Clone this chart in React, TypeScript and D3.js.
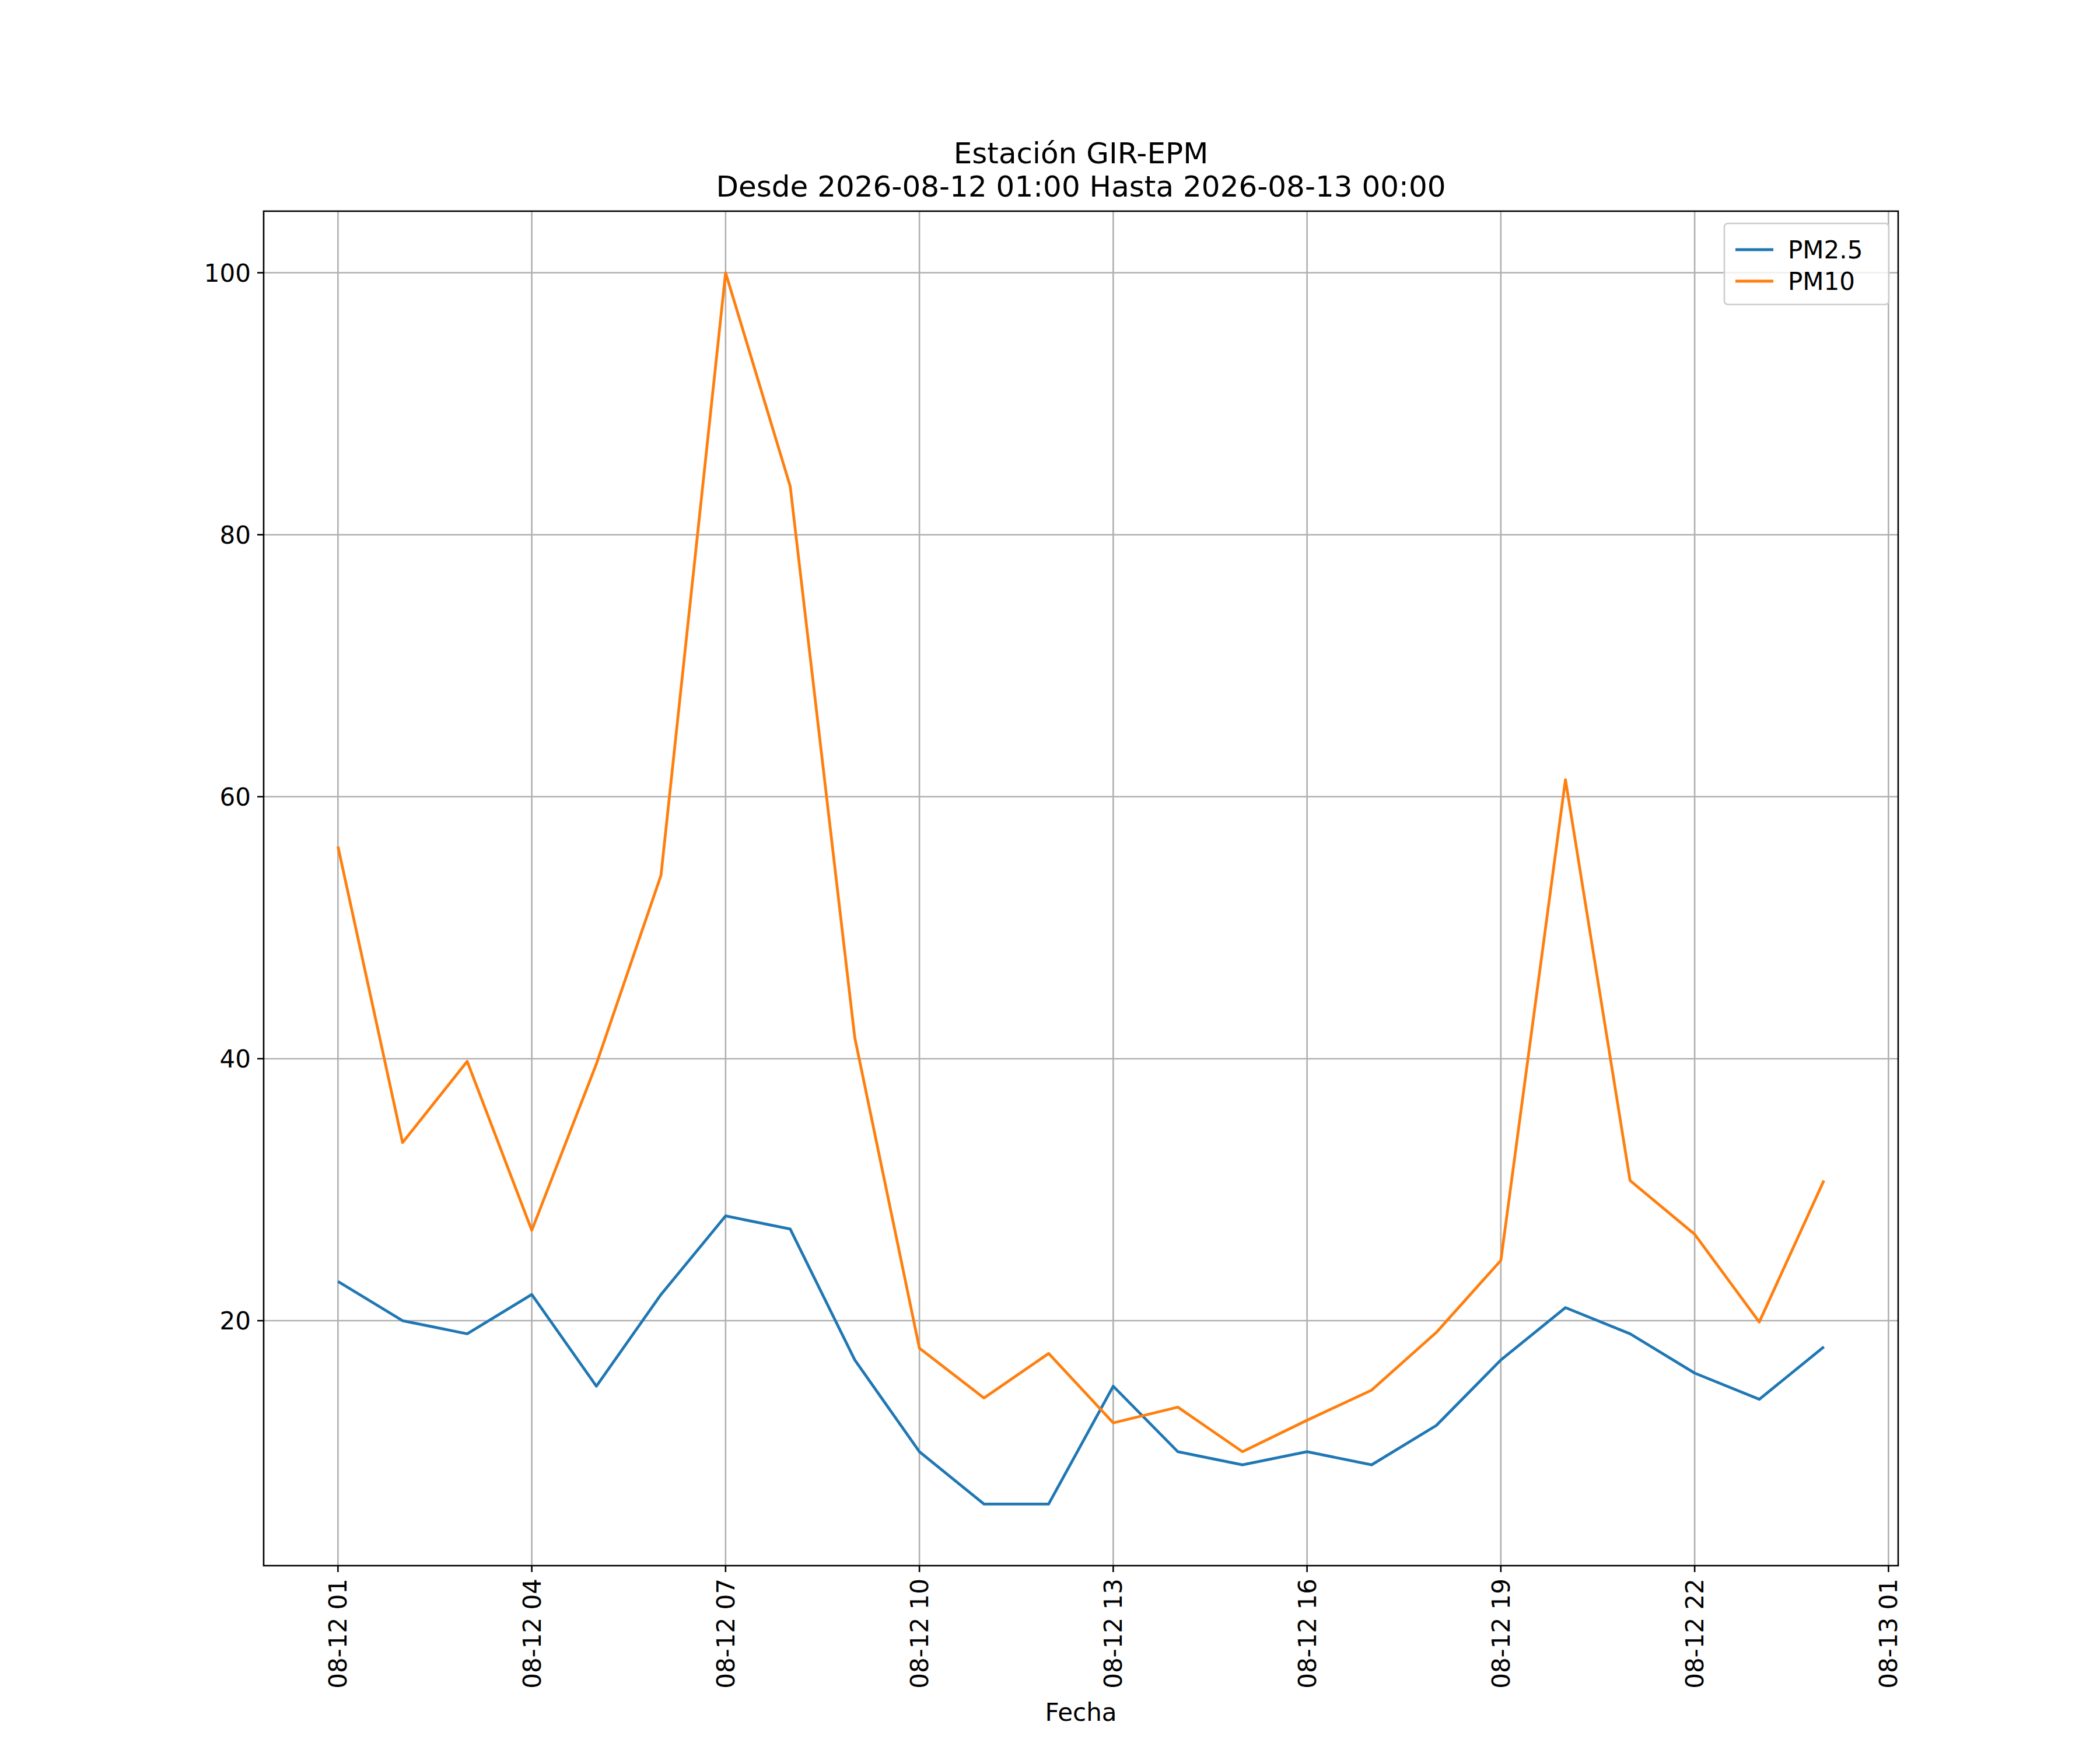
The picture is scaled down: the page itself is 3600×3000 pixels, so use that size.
import React from "react";
import * as d3 from "d3";

const hours = d3.range(1, 25);
const pm25 = [23, 20, 19, 22, 15, 22, 28, 27, 17, 10, 6, 6, 15, 10, 9, 10, 9, 12, 17, 21, 19, 16, 14, 18];
const pm10 = [56.2, 33.6, 39.8, 26.9, 39.6, 54, 100, 83.7, 41.6, 17.9, 14.1, 17.5, 12.2, 13.4, 10, 12.4, 14.7, 19.1, 24.6, 61.3, 30.7, 26.6, 19.9, 30.7];
const xTicks = [1, 4, 7, 10, 13, 16, 19, 22, 25];
const xTickLabels = ["08-12 01", "08-12 04", "08-12 07", "08-12 10", "08-12 13", "08-12 16", "08-12 19", "08-12 22", "08-13 01"];
const yTicks = [20, 40, 60, 80, 100];

const W = 3600, H = 3000;
const m = { left: 452, right: 3254, top: 362, bottom: 2684 };
const font = "DejaVu Sans, sans-serif";

export default function App() {
  const x = d3.scaleLinear().domain([-0.15, 25.15]).range([m.left, m.right]);
  const y = d3.scaleLinear().domain([1.3, 104.7]).range([m.bottom, m.top]);
  const line = d3.line<number>().x((_, i) => x(hours[i])).y((d) => y(d));
  const series = [
    { name: "PM2.5", values: pm25, color: "#1f77b4" },
    { name: "PM10", values: pm10, color: "#ff7f0e" },
  ];
  return (
    <svg width={W} height={H} style={{ display: "block", background: "#fff", marginLeft: -8, marginTop: -8 }} fontFamily={font}>
      <text x={(m.left + m.right) / 2} y={280} textAnchor="middle" fontSize={50}>Estación GIR-EPM</text>
      <text x={(m.left + m.right) / 2} y={337} textAnchor="middle" fontSize={50}>Desde 2026-08-12 01:00 Hasta 2026-08-13 00:00</text>
      {xTicks.map((t) => (
        <line key={"gx" + t} x1={x(t)} x2={x(t)} y1={m.top} y2={m.bottom} stroke="#b0b0b0" strokeWidth={2.6} />
      ))}
      {yTicks.map((t) => (
        <line key={"gy" + t} x1={m.left} x2={m.right} y1={y(t)} y2={y(t)} stroke="#b0b0b0" strokeWidth={2.6} />
      ))}
      {series.map((s) => (
        <path key={s.name} d={line(s.values) || ""} fill="none" stroke={s.color} strokeWidth={4.8} strokeLinejoin="round" />
      ))}
      <rect x={m.left} y={m.top} width={m.right - m.left} height={m.bottom - m.top} fill="none" stroke="#000" strokeWidth={2.6} />
      {xTicks.map((t, i) => (
        <g key={"tx" + t}>
          <line x1={x(t)} x2={x(t)} y1={m.bottom} y2={m.bottom + 11} stroke="#000" strokeWidth={2.6} />
          <text transform={`translate(${x(t) + 15},${m.bottom + 22}) rotate(-90)`} textAnchor="end" fontSize={42}>{xTickLabels[i]}</text>
        </g>
      ))}
      {yTicks.map((t) => (
        <g key={"ty" + t}>
          <line x1={m.left - 11} x2={m.left} y1={y(t)} y2={y(t)} stroke="#000" strokeWidth={2.6} />
          <text x={m.left - 22} y={y(t) + 15} textAnchor="end" fontSize={42}>{t}</text>
        </g>
      ))}
      <text x={(m.left + m.right) / 2} y={2950} textAnchor="middle" fontSize={42}>Fecha</text>
      <rect x={2956} y={383} width={282} height={139} fill="#fff" fillOpacity={0.8} stroke="#ccc" strokeWidth={2.6} rx={6} />
      {series.map((s, i) => (
        <g key={"lg" + s.name} transform={`translate(2975,${428 + i * 54})`}>
          <line x1={0} x2={65} y1={0} y2={0} stroke={s.color} strokeWidth={4.8} />
          <text x={90} y={15} fontSize={42}>{s.name}</text>
        </g>
      ))}
    </svg>
  );
}
